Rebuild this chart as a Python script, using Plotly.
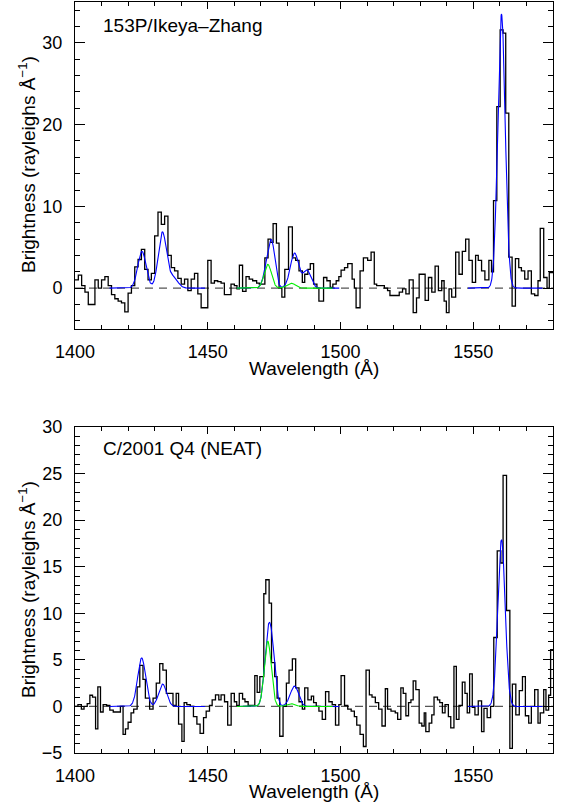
import numpy as np
import plotly.graph_objects as go

# ---------------- data ----------------
# Panel 1: 153P/Ikeya-Zhang  -- left bin edges (Å) and brightness (R/Å)
p1_edges = [1400, 1401.25, 1402.5, 1403.75, 1405, 1406.25, 1407.5, 1408.75, 1410, 1411.25,
            1412.5, 1413.75, 1415, 1416.25, 1417.5, 1418.75, 1420, 1421.25, 1422.5, 1423.75,
            1425, 1426.25, 1427.5, 1428.75, 1430, 1431.25, 1432.5, 1433.75, 1435, 1436.25,
            1437.5, 1438.75, 1440, 1441.25, 1442.5, 1443.75, 1445, 1446.25, 1447.5, 1448.75,
            1450, 1451.25, 1452.5, 1453.75, 1455, 1456.25, 1457.5, 1458.75,
            1460, 1461.0, 1461.9, 1463.1, 1464.4, 1465.6, 1466.9, 1468.4, 1469.4, 1471.5,
            1472.7, 1473.7, 1474.6, 1475.85, 1476.85, 1477.9, 1479.0, 1480.4, 1481.85, 1483.1,
            1484.35, 1485.6, 1486.5, 1487.7, 1488.6, 1489.85, 1491.1, 1491.85, 1493.6, 1494.85,
            1496.1, 1497.1, 1498.35, 1499.35, 1500.2, 1501.5, 1502.7, 1504.35, 1505.2, 1505.85,
            1507.35, 1508.6, 1510.2, 1511.5, 1512.7, 1513.6, 1515.2, 1516.5, 1517.7, 1518.6,
            1519.6, 1522.1, 1523.35, 1524.6, 1525.85, 1527.35, 1528.6, 1529.6, 1531.85, 1533.1,
            1534.35, 1535.6, 1536.85, 1538.1, 1539.0, 1539.85, 1540.85, 1541.85, 1543.35, 1544.6,
            1545.85, 1547.1, 1548.35, 1549.6, 1550.85, 1551.85, 1553.1, 1554.35, 1555.85, 1556.85,
            1557.6, 1558.85, 1560.1, 1561.2, 1562.2, 1563.35, 1564.6, 1565.85, 1567.1, 1568.1,
            1569.35, 1570.6, 1571.85, 1573.1, 1574.35, 1575.2, 1576.5, 1577.75, 1578.6]
p1_vals = [1.0, 1.6, 0.3, -0.5, -2.0, -2.0, 1.0, 0.0, 1.0, 1.4,
           0.3, -0.8, -1.3, -1.6, -1.8, -2.9, -0.6, 0.3, 2.6, 3.5,
           4.75, 2.3, 1.0, 1.8, 6.4, 9.3, 7.8, 8.8, 4.0, 2.5,
           2.1, 1.2, 0.5, 1.1, -0.3, 1.1, 1.8, -0.7, -2.4, -2.4,
           3.4, 0.6, 0.9, 0.8, 0.6, -0.8, -0.8, 0.5,
           0.3, -0.1, 2.8, -0.4, 1.4, 1.1, 0.9, 0.6, 0.5, 3.7,
           6.0, 5.6, 7.9, 5.5, 0.0, -1.1, 2.3, 7.5, 3.7, 3.4,
           2.1, 0.7, 1.7, 2.3, 3.0, 0.5, 0.0, -1.6, 1.3, 0.9,
           0.1, 0.5, 0.9, 1.4, 2.2, 2.5, 3.0, 1.1, 0.0, -2.4,
           2.1, 3.7, 3.4, 4.4, 0.5, 0.3, 0.3, 0.0, -0.3, -0.9,
           -0.9, -0.5, -0.1, -0.7, 1.0, -3.0, -1.2, 1.7, -1.5, 1.3,
           -0.5, 2.7, -0.3, 0.9, -1.6, -3.0, -0.1, -1.1, 4.4, 1.7,
           4.5, 6.0, 3.4, 0.7, 4.0, 3.4, 2.1, 1.0, 3.4, 2.0,
           10.7, 22.2, 31.6, 31.2, 21.4, 3.8, -2.2, 3.6, 2.5, 2.1,
           1.1, 2.1, -0.7, -0.9, 0.9, 7.3, 1.3, 0.0, 1.9]

# Panel 2: C/2001 Q4 (NEAT)
p2_edges = [1400, 1401.1, 1402.4, 1403.4, 1404.6, 1405.6, 1406.6, 1407.75, 1408.6, 1409.6,
            1410.6, 1411.9, 1413.1, 1414.4, 1415.9, 1417.1, 1418.1, 1419.0, 1420.0, 1421.1,
            1422.1, 1423.4, 1424.4, 1425.6, 1426.5, 1428.1, 1429.4, 1430.6, 1431.9, 1433.1,
            1434.4, 1435.9, 1436.9, 1438.1, 1439.0, 1440.25, 1441.1, 1442.1, 1443.4, 1444.6,
            1445.9, 1447.1, 1448.4, 1449.4, 1450.65, 1451.65, 1452.9, 1454.15, 1455.0, 1456.3,
            1457.5, 1458.8, 1460.0, 1460.9, 1461.85, 1463.1, 1464.0, 1465.2, 1466.5, 1467.7,
            1468.6, 1469.6, 1471.1, 1471.85, 1473.1, 1474.0, 1475.2, 1476.1, 1477.1, 1478.35,
            1479.6, 1480.6, 1481.85, 1483.1, 1484.35, 1485.6, 1486.5, 1487.7, 1489.0, 1489.85,
            1490.85, 1491.85, 1493.1, 1494.35, 1495.6, 1496.85, 1498.1, 1499.35, 1500.2, 1501.5,
            1502.7, 1504.0, 1505.2, 1506.1, 1507.35, 1508.6, 1509.6, 1510.85, 1511.85, 1513.1,
            1514.35, 1515.6, 1516.85, 1517.7, 1519.0, 1520.6, 1521.5, 1522.7, 1523.6, 1524.6,
            1525.6, 1526.5, 1527.35, 1528.35, 1529.6, 1530.6, 1531.5, 1532.1, 1533.35, 1534.35,
            1535.2, 1536.5, 1537.35, 1538.35, 1539.35, 1540.6, 1541.5, 1542.7, 1543.6, 1544.6,
            1545.85, 1546.85, 1547.7, 1548.6, 1549.6, 1550.6, 1551.85, 1553.1, 1554.0, 1555.2,
            1556.5, 1557.7, 1559.0, 1560.35, 1561.2, 1562.5, 1563.75, 1564.7, 1566.0, 1567.3,
            1568.5, 1569.6, 1570.85, 1571.85, 1573.1, 1574.35, 1575.2, 1576.5, 1577.35, 1578.35,
            1579.1]
p2_vals = [0.0, 0.2, -0.3, 0.0, 0.3, 1.2, 1.0, -2.4, 2.1, -0.6,
           0.2, 0.1, -0.4, -0.6, -0.6, 0.0, -3.0, -2.4, -1.7, -0.7,
           -0.3, 2.1, 4.4, 2.9, 0.9, -0.3, 0.9, 2.5, 4.6, 3.9,
           1.4, 1.4, 0.1, 1.4, -1.9, -3.75, 0.4, 0.2, 0.0, -1.1,
           -1.9, -2.9, -1.2, -0.5, 0.1, 0.7, 1.25, 0.7, 1.25, 0.5,
           -2.0, 1.4, 0.5, 0.1, 1.4, 0.8, 0.5, 0.1, 0.1, 3.3,
           1.5, 3.2, 12.1, 13.6, 11.1, 4.7, 3.2, 0.9, -3.2, 0.0,
           2.5, 3.9, 5.1, 2.0, 0.5, -0.3, 2.0, 0.7, 1.1, 0.4,
           0.0, -0.5, -1.4, 1.6, 0.5, 0.2, -2.0, 0.2, 3.3, 0.1,
           -0.3, -0.5, -1.1, -2.0, -3.0, -4.3, 3.9, 1.25, 1.0, 0.4,
           -0.3, -2.1, 1.9, -0.3, -0.5, -0.7, -1.4, 2.0, 1.4, -1.0,
           0.4, 0.7, 2.75, 1.8, -1.8, -2.1, -0.7, -2.7, -1.8, -0.9,
           1.0, 0.7, 0.4, -0.7, 0.2, -1.1, -2.3, 4.3, -1.4, 0.1,
           2.6, 1.4, -0.7, 3.5, -0.1, -0.9, 0.6, -2.7, -0.2, -1.2,
           0.0, 7.4, 16.7, 15.4, 24.8, 10.3, -4.5, 2.4, -0.9, 1.7,
           3.2, -1.0, -1.8, 0.0, 1.8, -1.8, -0.7, 1.8, -0.4, 1.2,
           6.1]

x_end = 1580

# Gaussian fit components: (centre Å, peak R/Å, sigma Å)
p1_fit_left = [(1425.2, 4.5, 1.55), (1432.9, 6.8, 1.55), (1437.0, 1.3, 1.7)]
p1_green_mid = [(1472.6, 2.9, 1.4), (1481.4, 0.6, 1.6)]
p1_extra_mid = [(1474.3, 4.3, 1.2), (1482.8, 3.85, 1.5), (1487.3, 2.2, 1.5)]
p1_fit_right = [(1560.6, 33.5, 1.4)]

p2_fit_left = [(1425.1, 5.2, 1.5), (1433.0, 2.4, 1.5)]
p2_green_mid = [(1472.6, 7.0, 1.3), (1481.2, 0.3, 1.6)]
p2_extra_mid = [(1474.4, 4.5, 1.2), (1482.8, 2.0, 1.5)]
p2_fit_right = [(1560.6, 17.9, 1.4)]

fit_left_range = (1413.0, 1449.0)
fit_mid_range = (1461.0, 1499.5)
green_mid_range = (1461.0, 1497.0)
fit_right_range = (1548.0, 1576.0)

titles = ["153P/Ikeya\u2013Zhang", "C/2001 Q4 (NEAT)"]


# ---------------- helpers ----------------
def gsum(x, comps):
    y = np.zeros_like(x)
    for c, a, s in comps:
        y = y + a * np.exp(-(x - c) ** 2 / (2 * s * s))
    return y


BLUE = "#0000ff"
GREEN = "#00ee00"
FONT = "Liberation Sans, Arial, Helvetica, sans-serif"

fig = go.Figure()


def add_panel(edges, vals, left, gmid, emid, right, xa, ya):
    fig.add_trace(go.Scatter(x=[1400, x_end], y=[0, 0], mode="lines",
                             line=dict(color="#555555", width=1.2, dash="8px,6px"),
                             xaxis=xa, yaxis=ya, hoverinfo="skip"))
    fig.add_trace(go.Scatter(x=list(edges) + [x_end], y=list(vals) + [vals[-1]],
                             mode="lines", line=dict(color="black", width=1.3, shape="hv"),
                             xaxis=xa, yaxis=ya, hoverinfo="skip"))
    xl = np.linspace(*fit_left_range, 300)
    fig.add_trace(go.Scatter(x=xl, y=gsum(xl, left), mode="lines",
                             line=dict(color=BLUE, width=1.1), xaxis=xa, yaxis=ya))
    xm = np.linspace(*fit_mid_range, 400)
    fig.add_trace(go.Scatter(x=xm, y=gsum(xm, gmid + emid), mode="lines",
                             line=dict(color=BLUE, width=1.1), xaxis=xa, yaxis=ya))
    xg = np.linspace(*green_mid_range, 400)
    fig.add_trace(go.Scatter(x=xg, y=gsum(xg, gmid), mode="lines",
                             line=dict(color=GREEN, width=1.1), xaxis=xa, yaxis=ya))
    xr = np.linspace(*fit_right_range, 300)
    fig.add_trace(go.Scatter(x=xr, y=gsum(xr, right), mode="lines",
                             line=dict(color=BLUE, width=1.1), xaxis=xa, yaxis=ya))


add_panel(p1_edges, p1_vals, p1_fit_left, p1_green_mid, p1_extra_mid, p1_fit_right, "x", "y")
add_panel(p2_edges, p2_vals, p2_fit_left, p2_green_mid, p2_extra_mid, p2_fit_right, "x2", "y2")

W, H = 561, 807
ML, MR, MT, MB = 75, 8, 2, 54
PH = H - MT - MB


def py(pix):  # pixel y -> paper y
    return (H - MB - pix) / PH


def px(pix):
    return (pix - ML) / (W - ML - MR)


xcommon = dict(range=[1400, 1580], tick0=1400, dtick=50, ticks="inside", ticklen=7,
               tickwidth=1, tickcolor="black", showline=True, linecolor="black",
               linewidth=1, mirror="allticks", showgrid=False, zeroline=False,
               automargin=False, ticklabelstandoff=6,
               minor=dict(ticks="inside", ticklen=4, dtick=10, tickcolor="black",
                          tickwidth=1, showgrid=False),
               tickfont=dict(family=FONT, size=18, color="black"))
ycommon = dict(ticks="inside", ticklen=10, tickwidth=1, tickcolor="black", showline=True,
               linecolor="black", linewidth=1, mirror="allticks", showgrid=False,
               zeroline=False, automargin=False, ticklabelstandoff=8,
               tickfont=dict(family=FONT, size=18, color="black"))

fig.update_layout(
    template="none",
    width=W, height=H, margin=dict(l=ML, r=MR, t=MT, b=MB, autoexpand=False),
    paper_bgcolor="white", plot_bgcolor="white", showlegend=False,
    xaxis=dict(domain=[0, 1], anchor="y", **xcommon),
    yaxis=dict(domain=[py(329), 1], anchor="x", range=[-5, 35], tick0=0, dtick=10,
               minor=dict(ticks="inside", ticklen=5, dtick=2, tickcolor="black",
                          tickwidth=1, showgrid=False), **ycommon),
    xaxis2=dict(domain=[0, 1], anchor="y2", **xcommon),
    yaxis2=dict(domain=[0, py(427)], anchor="x2", range=[-5, 30], tick0=0, dtick=5,
                minor=dict(ticks="inside", ticklen=5, dtick=1, tickcolor="black",
                           tickwidth=1, showgrid=False), **ycommon),
)

tfont = dict(family=FONT, size=19, color="black")
ann = [
    dict(text=titles[0], x=px(101), y=py(25), xanchor="left", yanchor="middle"),
    dict(text=titles[1], x=px(101), y=py(448), xanchor="left", yanchor="middle"),
    dict(text="Brightness (rayleighs \u00c5<sup>\u22121</sup>)", x=px(27), y=py(165),
         textangle=-90, xanchor="center", yanchor="middle"),
    dict(text="Brightness (rayleighs \u00c5<sup>\u22121</sup>)", x=px(27), y=py(590),
         textangle=-90, xanchor="center", yanchor="middle"),
    dict(text="Wavelength (\u00c5)", x=px(314), y=py(368), xanchor="center", yanchor="middle"),
    dict(text="Wavelength (\u00c5)", x=px(314), y=py(791), xanchor="center", yanchor="middle"),
]
for a in ann:
    fig.add_annotation(xref="paper", yref="paper", showarrow=False, font=tfont, **a)

fig.write_html("out.html",
               config={"displayModeBar": False},
               post_script="document.body.style.margin='0px';"
                           "document.body.style.overflow='hidden';")
